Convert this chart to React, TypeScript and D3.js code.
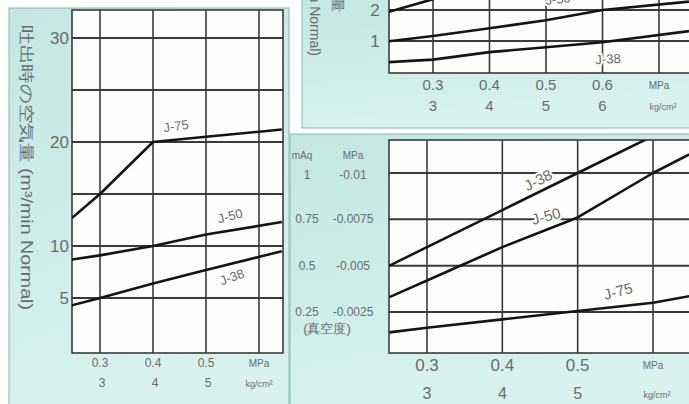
import React from "react";
import * as d3 from "d3";

// left chart: air volume at discharge vs supply pressure
const leftPressure = [0.247, 0.3, 0.4, 0.5, 0.643];
const leftJ75 = [12.7, 15.0, 20.0, 20.5, 21.2];
const leftJ50 = [8.7, 9.1, 10.0, 11.1, 12.3];
const leftJ38 = [4.3, 5.0, 6.4, 7.7, 9.5];
const leftGrid = [5, 10, 15, 20, 25, 30];
const leftYTicks = [5, 10, 20, 30];
const leftXTicks = [0.3, 0.4, 0.5, 0.6];
const leftKg = ["3", "4", "5"];

// upper right chart (cut off at the top of the picture)
const upPressure = [0.222, 0.3, 0.4, 0.5, 0.6, 0.753];
const upJ75 = [1.94, 2.35];
const upJ50 = [0.99, 1.16, 1.41, 1.67, 2.0, 2.27];
const upJ38 = [0.32, 0.4, 0.64, 0.8, 0.96, 1.32];
const upGrid = [1, 2];
const upXTicks = [0.3, 0.4, 0.5, 0.6, 0.7];
const upKg = ["3", "4", "5", "6"];

// lower right chart: vacuum
const lowPressure = [0.25, 0.3, 0.4, 0.5, 0.6, 0.648];
const lowJ38 = [0.5, 0.6, 0.8, 1.0, 1.2];
const lowJ50 = [0.33, 0.42, 0.6, 0.76, 1.0, 1.1];
const lowJ75 = [0.14, 0.165, 0.21, 0.255, 0.3, 0.335];
const lowGrid = [0.25, 0.5, 0.75, 1];
const lowMaq = ["0.25", "0.5", "0.75", "1"];
const lowMpa = ["-0.0025", "-0.005", "-0.0075", "-0.01"];
const lowXTicks = [0.3, 0.4, 0.5, 0.6];
const lowKg = ["3", "4", "5"];

const TEXT = "#6b6b6b";
const GRID = "#3a3a3a";
const LINE = "#141414";
const FONT = "'Liberation Sans', Arial, sans-serif";

type Box = { l: number; r: number; t: number; b: number };

function curve(x: d3.ScaleLinear<number, number>, y: d3.ScaleLinear<number, number>, xs: number[], ys: number[]) {
    const pts: [number, number][] = ys.map((v, i) => [xs[i], v]);
    return d3.line<[number, number]>()
        .x(d => x(d[0]))
        .y(d => y(d[1]))(pts) || "";
}

function Grid({ box, x, y, xs, ys, id }: { box: Box; x: any; y: any; xs: number[]; ys: number[]; id: string }) {
    return (
        <g>
            <clipPath id={id}>
                <rect x={box.l} y={box.t} width={box.r - box.l} height={box.b - box.t} />
            </clipPath>
            <rect x={box.l} y={box.t} width={box.r - box.l} height={box.b - box.t} fill="#fdfdfb" stroke={GRID} strokeWidth={1.6} />
            {ys.map(v => (
                <line key={"h" + v} x1={box.l} x2={box.r} y1={y(v)} y2={y(v)} stroke={GRID} strokeWidth={2} />
            ))}
            {xs.map(v => (
                <line key={"v" + v} x1={x(v)} x2={x(v)} y1={box.t} y2={box.b} stroke={GRID} strokeWidth={1.6} />
            ))}
        </g>
    );
}

function Label({ x, y, text, angle, size }: { x: number; y: number; text: string; angle: number; size: number }) {
    return (
        <text x={x} y={y} transform={`rotate(${angle},${x},${y})`} textAnchor="middle" dominantBaseline="central"
            fontSize={size} fill={TEXT} stroke="#fdfdfb" strokeWidth={4} paintOrder="stroke" fontFamily={FONT}>{text}</text>
    );
}

export default function App() {
    // left
    const lBox: Box = { l: 72, r: 283, t: 10, b: 353 };
    const lx = d3.scaleLinear().domain([0.3, 0.6]).range([100, 259]);
    const ly = d3.scaleLinear().domain([5, 30]).range([298, 38]);
    // upper right
    const uBox: Box = { l: 389, r: 695, t: -5, b: 73 };
    const ux = d3.scaleLinear().domain([0.3, 0.7]).range([433, 659]);
    const uy = d3.scaleLinear().domain([1, 2]).range([41, 10]);
    // lower right
    const dBox: Box = { l: 389, r: 695, t: 140, b: 353 };
    const dx = d3.scaleLinear().domain([0.3, 0.6]).range([427, 653]);
    const dy = d3.scaleLinear().domain([0.25, 1]).range([312, 173]);

    const lineProps = { fill: "none", stroke: LINE, strokeWidth: 2.6, strokeLinejoin: "round" as const };

    return (
        <svg width={689} height={404} style={{ position: "absolute", left: 0, top: 0, background: "#fff" }} fontFamily={FONT}>
            <defs>
                <linearGradient id="teal" x1="0" y1="0" x2="0.3" y2="1">
                    <stop offset="0" stopColor="#c2e7e1" />
                    <stop offset="1" stopColor="#d9f2ee" />
                </linearGradient>
            </defs>

            {/* panel backgrounds */}
            <rect x={9} y={8} width={280} height={404} fill="url(#teal)" stroke="#8fb3ad" strokeWidth={1} />
            <rect x={302} y={-5} width={400} height={133} fill="url(#teal)" stroke="#8fb3ad" strokeWidth={1} />
            <rect x={290} y={134} width={410} height={280} fill="url(#teal)" stroke="#8fb3ad" strokeWidth={1} />

            {/* ---------- left ---------- */}
            <Grid box={lBox} x={lx} y={ly} xs={leftXTicks} ys={leftGrid} id="clipL" />
            <g clipPath="url(#clipL)">
                <path d={curve(lx, ly, leftPressure, leftJ75)} {...lineProps} />
                <path d={curve(lx, ly, leftPressure, leftJ50)} {...lineProps} />
                <path d={curve(lx, ly, leftPressure, leftJ38)} {...lineProps} />
            </g>
            <Label x={176} y={126} text="J-75" angle={-8} size={13} />
            <Label x={230} y={216} text="J-50" angle={-15} size={13} />
            <Label x={232} y={277} text="J-38" angle={-20} size={13} />
            {leftYTicks.map(v => (
                <text key={v} x={69} y={ly(v)} textAnchor="end" dominantBaseline="central" fontSize={17} fill={TEXT}>{v}</text>
            ))}
            {leftXTicks.slice(0, 3).map(v => (
                <text key={v} x={lx(v)} y={367} textAnchor="middle" fontSize={12} fill={TEXT}>{v}</text>
            ))}
            <text x={lx(0.6)} y={367} textAnchor="middle" fontSize={10} fill={TEXT}>MPa</text>
            {leftKg.map((k, i) => (
                <text key={k} x={lx(leftXTicks[i]) + 2} y={387} textAnchor="middle" fontSize={12} fill={TEXT}>{k}</text>
            ))}
            <text x={lx(0.6)} y={387} textAnchor="middle" fontSize={9} fill={TEXT}>kg/cm²</text>
            <text x={0} y={0} transform="translate(21,25) rotate(90)" fontSize={16} fill={TEXT} textLength={285} lengthAdjust="spacingAndGlyphs">
                吐出時の空気量 (m³/min Normal)
            </text>

            {/* ---------- upper right ---------- */}
            <Grid box={uBox} x={ux} y={uy} xs={upXTicks} ys={upGrid} id="clipU" />
            <g clipPath="url(#clipU)">
                <path d={curve(ux, uy, upPressure, upJ75)} {...lineProps} />
                <path d={curve(ux, uy, upPressure, upJ50)} {...lineProps} />
                <path d={curve(ux, uy, upPressure, upJ38)} {...lineProps} />
            </g>
            <Label x={558} y={-1} text="J-50" angle={-6} size={13} />
            <Label x={608} y={59} text="J-38" angle={-3} size={13} />
            {upGrid.map(v => (
                <text key={v} x={375} y={uy(v)} textAnchor="middle" dominantBaseline="central" fontSize={17} fill={TEXT}>{v}</text>
            ))}
            {upXTicks.slice(0, 4).map(v => (
                <text key={v} x={ux(v)} y={90} textAnchor="middle" fontSize={15} fill={TEXT}>{v}</text>
            ))}
            <text x={ux(0.7)} y={89} textAnchor="middle" fontSize={10} fill={TEXT}>MPa</text>
            {upKg.map((k, i) => (
                <text key={k} x={ux(upXTicks[i])} y={111} textAnchor="middle" fontSize={15} fill={TEXT}>{k}</text>
            ))}
            <text x={ux(0.7) + 4} y={110} textAnchor="middle" fontSize={9} fill={TEXT}>kg/cm²</text>
            <text x={0} y={0} transform="translate(333,12) rotate(90)" textAnchor="end" fontSize={14} fill={TEXT}>吐出時の空気量</text>
            <text x={0} y={0} transform="translate(310,56) rotate(90)" textAnchor="end" fontSize={14} fill={TEXT}>(m³/min Normal)</text>

            {/* ---------- lower right ---------- */}
            <Grid box={dBox} x={dx} y={dy} xs={lowXTicks} ys={lowGrid} id="clipD" />
            <g clipPath="url(#clipD)">
                <path d={curve(dx, dy, lowPressure, lowJ38)} {...lineProps} />
                <path d={curve(dx, dy, lowPressure, lowJ50)} {...lineProps} />
                <path d={curve(dx, dy, lowPressure, lowJ75)} {...lineProps} />
            </g>
            <Label x={538} y={180} text="J-38" angle={-27} size={15} />
            <Label x={546} y={216} text="J-50" angle={-15} size={15} />
            <Label x={618} y={291} text="J-75" angle={-15} size={15} />
            <text x={302} y={155} textAnchor="middle" dominantBaseline="central" fontSize={10} fill={TEXT}>mAq</text>
            <text x={353} y={155} textAnchor="middle" dominantBaseline="central" fontSize={10} fill={TEXT}>MPa</text>
            {lowGrid.map((v, i) => (
                <g key={v}>
                    <text x={307} y={dy(v) + (v === 1 ? 2 : 0)} textAnchor="middle" dominantBaseline="central" fontSize={12} fill={TEXT}>{lowMaq[i]}</text>
                    <text x={353} y={dy(v) + (v === 1 ? 2 : 0)} textAnchor="middle" dominantBaseline="central" fontSize={12} fill={TEXT}>{lowMpa[i]}</text>
                </g>
            ))}
            <text x={327} y={328} textAnchor="middle" dominantBaseline="central" fontSize={13} fill={TEXT}>(真空度)</text>
            {lowXTicks.slice(0, 3).map(v => (
                <text key={v} x={dx(v)} y={371} textAnchor="middle" fontSize={17} fill={TEXT}>{v}</text>
            ))}
            <text x={dx(0.6)} y={369} textAnchor="middle" fontSize={10} fill={TEXT}>MPa</text>
            {lowKg.map((k, i) => (
                <text key={k} x={dx(lowXTicks[i])} y={399} textAnchor="middle" fontSize={16} fill={TEXT}>{k}</text>
            ))}
            <text x={dx(0.6) + 4} y={398} textAnchor="middle" fontSize={9} fill={TEXT}>kg/cm²</text>
        </svg>
    );
}
